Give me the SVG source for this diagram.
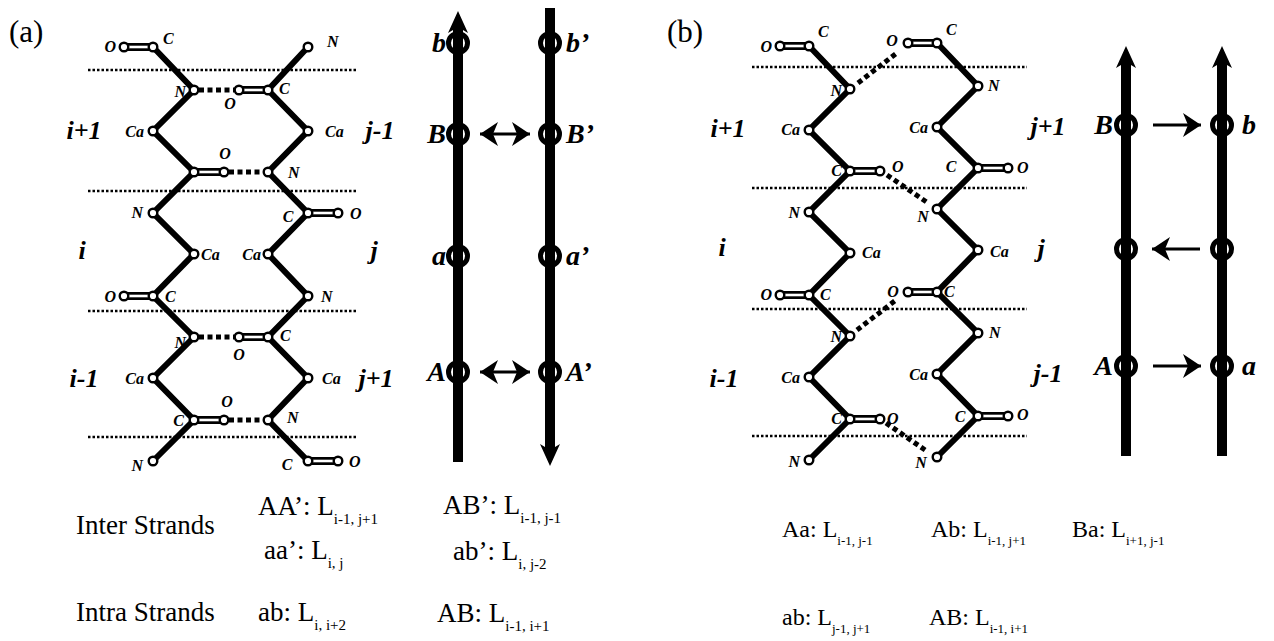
<svg xmlns="http://www.w3.org/2000/svg" width="1274" height="641" viewBox="0 0 1274 641">
<style>
.bond{fill:none;stroke:#000;stroke-width:6;stroke-linejoin:miter}
.dbo{stroke:#000;stroke-width:8}
.dbi{stroke:#fff;stroke-width:2.6}
.atom{fill:#fff;stroke:#000;stroke-width:2.4}
.hb{stroke:#000;stroke-width:5;stroke-dasharray:5 3.5;fill:none}
.sep{stroke:#000;stroke-width:2.5;stroke-dasharray:2.5 2}
.al{font-family:"Liberation Serif",serif;font-weight:bold;font-style:italic;font-size:16px;fill:#000}
.rl{font-family:"Liberation Serif",serif;font-weight:bold;font-style:italic;font-size:26px;fill:#000}
.sl{font-family:"Liberation Serif",serif;font-weight:bold;font-style:italic;font-size:28px;fill:#000}
.pl{font-family:"Liberation Serif",serif;font-size:31px;fill:#000}
.tx{font-family:"Liberation Serif",serif;font-size:27px;fill:#000}
.txb{font-family:"Liberation Serif",serif;font-size:24px;fill:#000}
.sb{font-size:15px}
.sbb{font-size:13px}
.strand{stroke:#000;stroke-width:10;fill:none}
.ring{fill:none;stroke:#000;stroke-width:5}
.thin{stroke:#000;stroke-width:3;fill:none}
.mid{text-anchor:middle}
.end{text-anchor:end}
</style>
<defs>
<marker id="ah" markerUnits="userSpaceOnUse" viewBox="0 -13 18 26" refX="18" refY="0" markerWidth="18" markerHeight="26" orient="auto-start-reverse">
<path d="M18,0 L0,-12 L5,0 L0,12 Z" fill="#000"/>
</marker>
</defs>

<text class="pl" x="9" y="42">(a)</text>
<text class="pl" x="667" y="42">(b)</text>

<g id="separators">
<line class="sep" x1="88" y1="70" x2="358" y2="70"/>
<line class="sep" x1="88" y1="191" x2="358" y2="191"/>
<line class="sep" x1="88" y1="311" x2="358" y2="311"/>
<line class="sep" x1="88" y1="437" x2="358" y2="437"/>
<line class="sep" x1="752" y1="67" x2="1027" y2="67"/>
<line class="sep" x1="752" y1="188" x2="1027" y2="188"/>
<line class="sep" x1="752" y1="309" x2="1027" y2="309"/>
<line class="sep" x1="752" y1="436" x2="1027" y2="436"/>
</g>

<g id="hbonds">
<line class="hb" x1="199" y1="90" x2="234" y2="90"/>
<line class="hb" x1="229" y1="172" x2="263" y2="172"/>
<line class="hb" x1="199" y1="337" x2="234" y2="337"/>
<line class="hb" x1="229" y1="420" x2="263" y2="420"/>
<line class="hb" x1="858" y1="83" x2="898" y2="52"/>
<line class="hb" x1="887" y1="175" x2="928" y2="203"/>
<line class="hb" x1="857" y1="330" x2="896" y2="300"/>
<line class="hb" x1="886" y1="423" x2="928" y2="452"/>
</g>

<g id="chain-a-i">
<polyline class="bond" points="153,47 194,90 153,131 194,172 153,213 194,254 153,296 194,337 153,378 194,420 153,461"/>
<line class="dbo" x1="124" y1="47" x2="153" y2="47"/><line class="dbi" x1="124" y1="47" x2="153" y2="47"/>
<line class="dbo" x1="194" y1="172" x2="224" y2="172"/><line class="dbi" x1="194" y1="172" x2="224" y2="172"/>
<line class="dbo" x1="124" y1="296" x2="153" y2="296"/><line class="dbi" x1="124" y1="296" x2="153" y2="296"/>
<line class="dbo" x1="194" y1="420" x2="224" y2="420"/><line class="dbi" x1="194" y1="420" x2="224" y2="420"/>
<circle class="atom" cx="124" cy="47" r="4.3"/><circle class="atom" cx="153" cy="47" r="4.3"/>
<circle class="atom" cx="194" cy="90" r="4.3"/><circle class="atom" cx="153" cy="131" r="4.3"/>
<circle class="atom" cx="194" cy="172" r="4.3"/><circle class="atom" cx="224" cy="172" r="4.3"/>
<circle class="atom" cx="153" cy="213" r="4.3"/><circle class="atom" cx="194" cy="254" r="4.3"/>
<circle class="atom" cx="153" cy="296" r="4.3"/><circle class="atom" cx="124" cy="296" r="4.3"/>
<circle class="atom" cx="194" cy="337" r="4.3"/><circle class="atom" cx="153" cy="378" r="4.3"/>
<circle class="atom" cx="194" cy="420" r="4.3"/><circle class="atom" cx="224" cy="420" r="4.3"/>
<circle class="atom" cx="153" cy="461" r="4.3"/>
<text class="al end" x="116" y="52">O</text>
<text class="al" x="163" y="44">C</text>
<text class="al end" x="186" y="97">N</text>
<text class="al end" x="144" y="137">Ca</text>
<text class="al mid" x="225" y="159">O</text>
<text class="al end" x="143" y="218">N</text>
<text class="al" x="201" y="260">Ca</text>
<text class="al end" x="116" y="302">O</text>
<text class="al" x="165" y="302">C</text>
<text class="al end" x="186" y="348">N</text>
<text class="al end" x="144" y="384">Ca</text>
<text class="al mid" x="227" y="407">O</text>
<text class="al end" x="184" y="426">C</text>
<text class="al end" x="143" y="471">N</text>
</g>

<g id="chain-a-j">
<polyline class="bond" points="308,47 268,90 308,131 268,172 308,213 268,254 308,296 268,337 308,378 268,420 308,461"/>
<line class="dbo" x1="239" y1="90" x2="268" y2="90"/><line class="dbi" x1="239" y1="90" x2="268" y2="90"/>
<line class="dbo" x1="308" y1="213" x2="338" y2="213"/><line class="dbi" x1="308" y1="213" x2="338" y2="213"/>
<line class="dbo" x1="239" y1="337" x2="268" y2="337"/><line class="dbi" x1="239" y1="337" x2="268" y2="337"/>
<line class="dbo" x1="308" y1="461" x2="338" y2="461"/><line class="dbi" x1="308" y1="461" x2="338" y2="461"/>
<circle class="atom" cx="308" cy="47" r="4.3"/><circle class="atom" cx="268" cy="90" r="4.3"/>
<circle class="atom" cx="239" cy="90" r="4.3"/><circle class="atom" cx="308" cy="131" r="4.3"/>
<circle class="atom" cx="268" cy="172" r="4.3"/><circle class="atom" cx="308" cy="213" r="4.3"/>
<circle class="atom" cx="338" cy="213" r="4.3"/><circle class="atom" cx="268" cy="254" r="4.3"/>
<circle class="atom" cx="308" cy="296" r="4.3"/><circle class="atom" cx="268" cy="337" r="4.3"/>
<circle class="atom" cx="239" cy="337" r="4.3"/><circle class="atom" cx="308" cy="378" r="4.3"/>
<circle class="atom" cx="268" cy="420" r="4.3"/><circle class="atom" cx="308" cy="461" r="4.3"/>
<circle class="atom" cx="338" cy="461" r="4.3"/>
<text class="al" x="327" y="47">N</text>
<text class="al" x="279" y="94">C</text>
<text class="al mid" x="230" y="109">O</text>
<text class="al" x="325" y="137">Ca</text>
<text class="al" x="288" y="178">N</text>
<text class="al mid" x="288" y="222">C</text>
<text class="al" x="350" y="219">O</text>
<text class="al end" x="261" y="260">Ca</text>
<text class="al" x="321" y="302">N</text>
<text class="al" x="280" y="341">C</text>
<text class="al mid" x="239" y="360">O</text>
<text class="al" x="322" y="384">Ca</text>
<text class="al" x="287" y="423">N</text>
<text class="al mid" x="287" y="470">C</text>
<text class="al" x="349" y="467">O</text>
</g>

<g id="residues-a">
<text class="rl mid" x="84" y="139">i+1</text>
<text class="rl mid" x="380" y="139">j-1</text>
<text class="rl mid" x="82" y="259">i</text>
<text class="rl mid" x="374" y="259">j</text>
<text class="rl mid" x="84" y="387">i-1</text>
<text class="rl mid" x="376" y="387">j+1</text>
</g>

<g id="strand-a-left">
<line class="strand" x1="458" y1="462" x2="458" y2="27"/>
<path d="M458,11 L448,33 L458,27 L468,33 Z" fill="#000"/>
<circle class="ring" cx="458" cy="43" r="9.5"/>
<circle class="ring" cx="458" cy="134" r="9.5"/>
<circle class="ring" cx="458" cy="256" r="9.5"/>
<circle class="ring" cx="458" cy="372" r="9.5"/>
<text class="sl end" x="446" y="52">b</text>
<text class="sl end" x="446" y="143">B</text>
<text class="sl end" x="446" y="265">a</text>
<text class="sl end" x="446" y="381">A</text>
</g>
<g id="strand-a-right">
<line class="strand" x1="550" y1="8" x2="550" y2="450"/>
<path d="M550,466 L540,444 L550,450 L560,444 Z" fill="#000"/>
<circle class="ring" cx="550" cy="43" r="9.5"/>
<circle class="ring" cx="550" cy="134" r="9.5"/>
<circle class="ring" cx="550" cy="256" r="9.5"/>
<circle class="ring" cx="550" cy="372" r="9.5"/>
<text class="sl" x="566" y="52">b’</text>
<text class="sl" x="566" y="143">B’</text>
<text class="sl" x="566" y="265">a’</text>
<text class="sl" x="566" y="381">A’</text>
</g>

<g id="chain-b-i">
<polyline class="bond" points="809,46 850,89 809,130 850,171 809,212 850,253 809,295 850,336 809,377 850,419 809,460"/>
<line class="dbo" x1="780" y1="46" x2="809" y2="46"/><line class="dbi" x1="780" y1="46" x2="809" y2="46"/>
<line class="dbo" x1="850" y1="171" x2="880" y2="171"/><line class="dbi" x1="850" y1="171" x2="880" y2="171"/>
<line class="dbo" x1="780" y1="295" x2="809" y2="295"/><line class="dbi" x1="780" y1="295" x2="809" y2="295"/>
<line class="dbo" x1="850" y1="419" x2="880" y2="419"/><line class="dbi" x1="850" y1="419" x2="880" y2="419"/>
<circle class="atom" cx="780" cy="46" r="4.3"/><circle class="atom" cx="809" cy="46" r="4.3"/>
<circle class="atom" cx="850" cy="89" r="4.3"/><circle class="atom" cx="809" cy="130" r="4.3"/>
<circle class="atom" cx="850" cy="171" r="4.3"/><circle class="atom" cx="880" cy="171" r="4.3"/>
<circle class="atom" cx="809" cy="212" r="4.3"/><circle class="atom" cx="850" cy="253" r="4.3"/>
<circle class="atom" cx="809" cy="295" r="4.3"/><circle class="atom" cx="780" cy="295" r="4.3"/>
<circle class="atom" cx="850" cy="336" r="4.3"/><circle class="atom" cx="809" cy="377" r="4.3"/>
<circle class="atom" cx="850" cy="419" r="4.3"/><circle class="atom" cx="880" cy="419" r="4.3"/>
<circle class="atom" cx="809" cy="460" r="4.3"/>
<text class="al end" x="772" y="52">O</text>
<text class="al" x="818" y="37">C</text>
<text class="al end" x="842" y="96">N</text>
<text class="al end" x="800" y="135">Ca</text>
<text class="al end" x="842" y="176">C</text>
<text class="al" x="892" y="172">O</text>
<text class="al end" x="800" y="218">N</text>
<text class="al" x="862" y="258">Ca</text>
<text class="al end" x="772" y="300">O</text>
<text class="al" x="820" y="300">C</text>
<text class="al end" x="842" y="342">N</text>
<text class="al end" x="800" y="383">Ca</text>
<text class="al end" x="842" y="424">C</text>
<text class="al" x="887" y="424">O</text>
<text class="al end" x="800" y="467">N</text>
</g>

<g id="chain-b-j">
<polyline class="bond" points="937,43 978,86 937,127 978,168 937,209 978,250 937,292 978,333 937,374 978,416 937,457"/>
<line class="dbo" x1="908" y1="43" x2="937" y2="43"/><line class="dbi" x1="908" y1="43" x2="937" y2="43"/>
<line class="dbo" x1="978" y1="168" x2="1008" y2="168"/><line class="dbi" x1="978" y1="168" x2="1008" y2="168"/>
<line class="dbo" x1="908" y1="292" x2="937" y2="292"/><line class="dbi" x1="908" y1="292" x2="937" y2="292"/>
<line class="dbo" x1="978" y1="416" x2="1008" y2="416"/><line class="dbi" x1="978" y1="416" x2="1008" y2="416"/>
<circle class="atom" cx="908" cy="43" r="4.3"/><circle class="atom" cx="937" cy="43" r="4.3"/>
<circle class="atom" cx="978" cy="86" r="4.3"/><circle class="atom" cx="937" cy="127" r="4.3"/>
<circle class="atom" cx="978" cy="168" r="4.3"/><circle class="atom" cx="1008" cy="168" r="4.3"/>
<circle class="atom" cx="937" cy="209" r="4.3"/><circle class="atom" cx="978" cy="250" r="4.3"/>
<circle class="atom" cx="937" cy="292" r="4.3"/><circle class="atom" cx="908" cy="292" r="4.3"/>
<circle class="atom" cx="978" cy="333" r="4.3"/><circle class="atom" cx="937" cy="374" r="4.3"/>
<circle class="atom" cx="978" cy="416" r="4.3"/><circle class="atom" cx="1008" cy="416" r="4.3"/>
<circle class="atom" cx="937" cy="457" r="4.3"/>
<text class="al mid" x="892" y="46">O</text>
<text class="al" x="946" y="35">C</text>
<text class="al" x="988" y="91">N</text>
<text class="al end" x="928" y="133">Ca</text>
<text class="al mid" x="951" y="172">C</text>
<text class="al" x="1017" y="173">O</text>
<text class="al mid" x="923" y="222">N</text>
<text class="al" x="990" y="257">Ca</text>
<text class="al mid" x="893" y="297">O</text>
<text class="al" x="944" y="297">C</text>
<text class="al" x="989" y="338">N</text>
<text class="al end" x="928" y="380">Ca</text>
<text class="al mid" x="960" y="422">C</text>
<text class="al" x="1017" y="420">O</text>
<text class="al mid" x="921" y="468">N</text>
</g>

<g id="residues-b">
<text class="rl mid" x="728" y="137">i+1</text>
<text class="rl mid" x="722" y="256">i</text>
<text class="rl mid" x="724" y="387">i-1</text>
<text class="rl mid" x="1048" y="135">j+1</text>
<text class="rl mid" x="1041" y="257">j</text>
<text class="rl mid" x="1048" y="382">j-1</text>
</g>

<g id="strand-b-left">
<line class="strand" x1="1126" y1="456" x2="1126" y2="62"/>
<path d="M1126,46 L1116,68 L1126,62 L1136,68 Z" fill="#000"/>
<circle class="ring" cx="1126" cy="125" r="9.5"/>
<circle class="ring" cx="1126" cy="249" r="9.5"/>
<circle class="ring" cx="1126" cy="366" r="9.5"/>
<text class="sl end" x="1113" y="134">B</text>
<text class="sl end" x="1113" y="375">A</text>
</g>
<g id="strand-b-right">
<line class="strand" x1="1222" y1="456" x2="1222" y2="62"/>
<path d="M1222,46 L1212,68 L1222,62 L1232,68 Z" fill="#000"/>
<circle class="ring" cx="1222" cy="125" r="9.5"/>
<circle class="ring" cx="1222" cy="249" r="9.5"/>
<circle class="ring" cx="1222" cy="366" r="9.5"/>
<text class="sl" x="1242" y="134">b</text>
<text class="sl" x="1242" y="375">a</text>
</g>

<g id="connectors">
<line class="thin" x1="480" y1="134" x2="530" y2="134" marker-start="url(#ah)" marker-end="url(#ah)"/>
<line class="thin" x1="480" y1="372" x2="530" y2="372" marker-start="url(#ah)" marker-end="url(#ah)"/>
<line class="thin" x1="1153" y1="125" x2="1201" y2="125" marker-end="url(#ah)"/>
<line class="thin" x1="1200" y1="249" x2="1152" y2="249" marker-end="url(#ah)"/>
<line class="thin" x1="1153" y1="366" x2="1201" y2="366" marker-end="url(#ah)"/>
</g>

<g id="legend-a">
<text class="tx" x="76" y="534">Inter Strands</text>
<text class="tx" x="76" y="621">Intra Strands</text>
<text class="tx" x="258" y="515">AA’: L<tspan class="sb" dy="9">i-1, j+1</tspan></text>
<text class="tx" x="443" y="514">AB’: L<tspan class="sb" dy="9">i-1, j-1</tspan></text>
<text class="tx" x="264" y="559">aa’: L<tspan class="sb" dy="9">i, j</tspan></text>
<text class="tx" x="453" y="560">ab’: L<tspan class="sb" dy="9">i, j-2</tspan></text>
<text class="tx" x="258" y="621">ab: L<tspan class="sb" dy="9">i, i+2</tspan></text>
<text class="tx" x="437" y="622">AB: L<tspan class="sb" dy="9">i-1, i+1</tspan></text>
</g>
<g id="legend-b">
<text class="txb" x="782" y="537">Aa: L<tspan class="sbb" dy="8">i-1, j-1</tspan></text>
<text class="txb" x="931" y="537">Ab: L<tspan class="sbb" dy="8">i-1, j+1</tspan></text>
<text class="txb" x="1072" y="537">Ba: L<tspan class="sbb" dy="8">i+1, j-1</tspan></text>
<text class="txb" x="782" y="625">ab: L<tspan class="sbb" dy="8">j-1, j+1</tspan></text>
<text class="txb" x="929" y="625">AB: L<tspan class="sbb" dy="8">i-1, i+1</tspan></text>
</g>
</svg>
